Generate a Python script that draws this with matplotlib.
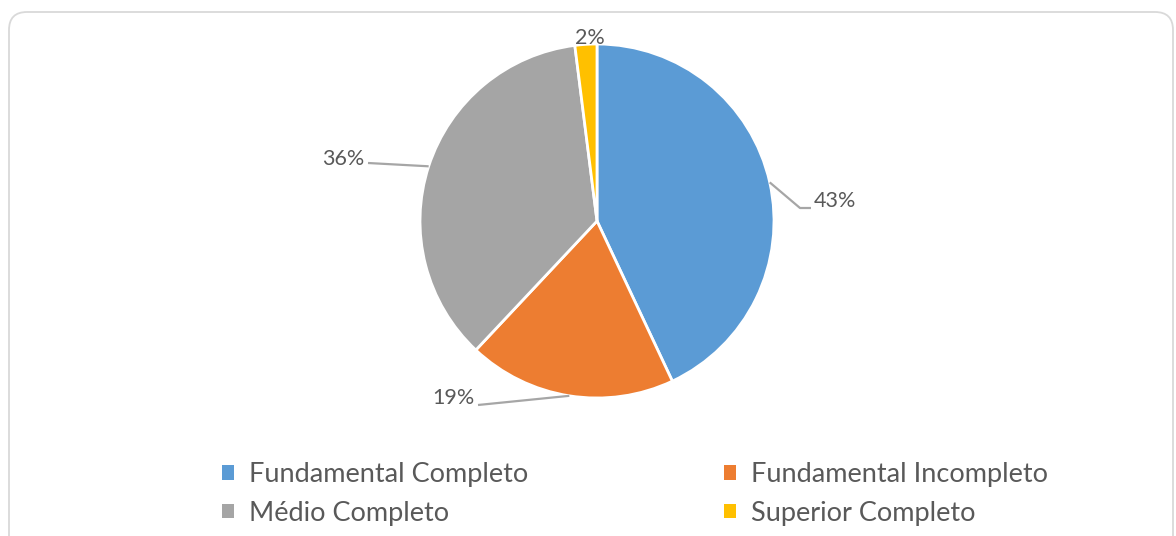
import numpy as np
import matplotlib.pyplot as plt
from matplotlib.patches import FancyBboxPatch, Rectangle

plt.rcParams['font.family'] = ['Lato', 'DejaVu Sans']

# escolaridade dos entrevistados
categorias = ["Fundamental Completo", "Fundamental Incompleto",
              "Médio Completo", "Superior Completo"]
percentuais = [43, 19, 36, 2]
cores = ["#5B9BD5", "#ED7D31", "#A5A5A5", "#FFC000"]

W, H = 1176, 536
fig = plt.figure(figsize=(W / 100, H / 100), dpi=100)
ax = fig.add_axes([0, 0, 1, 1])

# moldura arredondada
ax.add_patch(FancyBboxPatch((9, -30), 1164, H - 11 + 30 - 1,
                            boxstyle="round,pad=0,rounding_size=18",
                            fc="white", ec="#D9D9D9", lw=1.3))

cx, cy, r = 597, H - 221, 177
wedges, _ = ax.pie(percentuais, colors=cores, startangle=90, counterclock=False,
                   center=(cx, cy), radius=r, frame=True,
                   wedgeprops=dict(edgecolor="white", linewidth=2))
ax.set_xlim(0, W)
ax.set_ylim(0, H)
ax.set_aspect("equal")
ax.axis("off")

# rótulos com linhas de chamada (posição do texto em pixels)
rotulos = [
    dict(txt=(835, 201), pts=[(800, 208), (811, 208)]),
    dict(txt=(453, 398), pts=[(478, 405)]),
    dict(txt=(343, 159), pts=[(368, 163)]),
    dict(txt=(590, 38), pts=None),
]
for w, p, lab in zip(wedges, percentuais, rotulos):
    ang = np.deg2rad((w.theta1 + w.theta2) / 2)
    x0, y0 = cx + r * np.cos(ang), cy + r * np.sin(ang)
    if lab["pts"]:
        xs = [x0] + [q[0] for q in lab["pts"]]
        ys = [y0] + [H - q[1] for q in lab["pts"]]
        ax.plot(xs, ys, color="#A6A6A6", lw=1.6, solid_capstyle="butt")
    tx, ty = lab["txt"]
    ax.text(tx, H - ty, f"{p}%", ha="center", va="center",
            fontsize=15.5, color="#595959")

# legenda em duas colunas
ordem = [0, 2, 1, 3]
handles = [Rectangle((0, 0), 1, 1, fc=cores[i]) for i in ordem]
leg = fig.legend(handles, [categorias[i] for i in ordem], ncol=2,
                 loc="center", bbox_to_anchor=(635 / W, 1 - 494 / H),
                 frameon=False, fontsize=19.5, labelcolor="#595959",
                 handlelength=0.45, handleheight=0.45, handletextpad=0.55,
                 columnspacing=7.2, labelspacing=0.5)

fig.savefig("out.png", dpi=100, facecolor="white")
